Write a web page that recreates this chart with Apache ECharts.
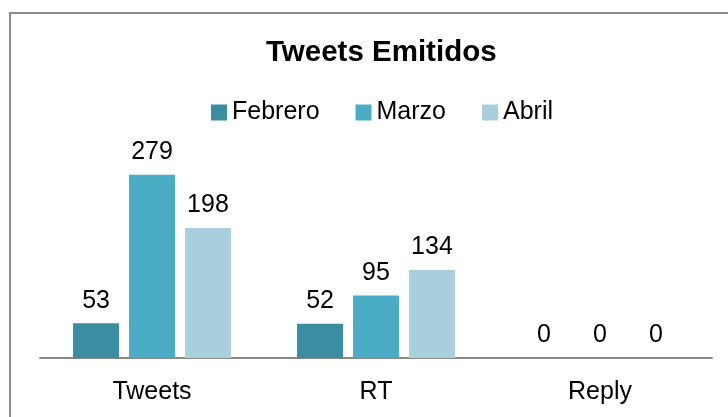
<!DOCTYPE html>
<html>
<head>
<meta charset="utf-8">
<script src="https://cdn.jsdelivr.net/npm/echarts@6/dist/echarts.min.js"></script>
<style>
html,body{margin:0;padding:0;background:#fff;}
#c{width:728px;height:417px;}
</style>
</head>
<body>
<div id="c"></div>
<script>
const categories = ['Tweets', 'RT', 'Reply'];
const seriesNames = ['Febrero', 'Marzo', 'Abril'];
const febrero = [53, 52, 0];
const marzo = [279, 95, 0];
const abril = [198, 134, 0];
const colors = ['#3C8CA2', '#4BACC6', '#A9CEDC'];
const FONT = '"Liberation Sans", Arial, sans-serif';

const chart = echarts.init(document.getElementById('c'), null, {renderer: 'canvas'});
const dataSets = [febrero, marzo, abril];
const series = seriesNames.map((name, i) => ({
  name: name,
  type: 'bar',
  data: dataSets[i],
  barGap: '21.7%',
  barCategoryGap: '29.5%',
  itemStyle: {color: colors[i]},
  label: {
    show: true,
    position: 'top',
    distance: 10,
    color: '#000',
    fontFamily: FONT,
    fontSize: 25
  }
}));

chart.setOption({
  animation: false,
  backgroundColor: '#fff',
  title: {
    text: 'Tweets Emitidos',
    left: 261,
    top: 33,
    textStyle: {fontFamily: FONT, fontWeight: 'bold', fontSize: 29.5, color: '#000'}
  },
  legend: {
    data: seriesNames,
    top: 95,
    left: 206,
    icon: 'rect',
    itemWidth: 16,
    itemHeight: 16,
    itemGap: 36,
    textStyle: {fontFamily: FONT, fontSize: 25, color: '#000'}
  },
  grid: {left: 40, right: 16, top: 161, bottom: 59, containLabel: false},
  xAxis: {
    type: 'category',
    data: categories,
    axisLine: {show: true, lineStyle: {color: '#888', width: 2}},
    axisTick: {show: false},
    axisLabel: {fontFamily: FONT, fontSize: 25, color: '#000', margin: 22}
  },
  yAxis: {
    type: 'value',
    min: 0,
    max: 300,
    show: false,
    splitLine: {show: false}
  },
  graphic: [{
    type: 'rect',
    shape: {x: 10, y: 13, width: 740, height: 430},
    style: {fill: 'none', stroke: '#8c8c8c', lineWidth: 2},
    z: 100
  }],
  series: series
});
</script>
</body>
</html>
